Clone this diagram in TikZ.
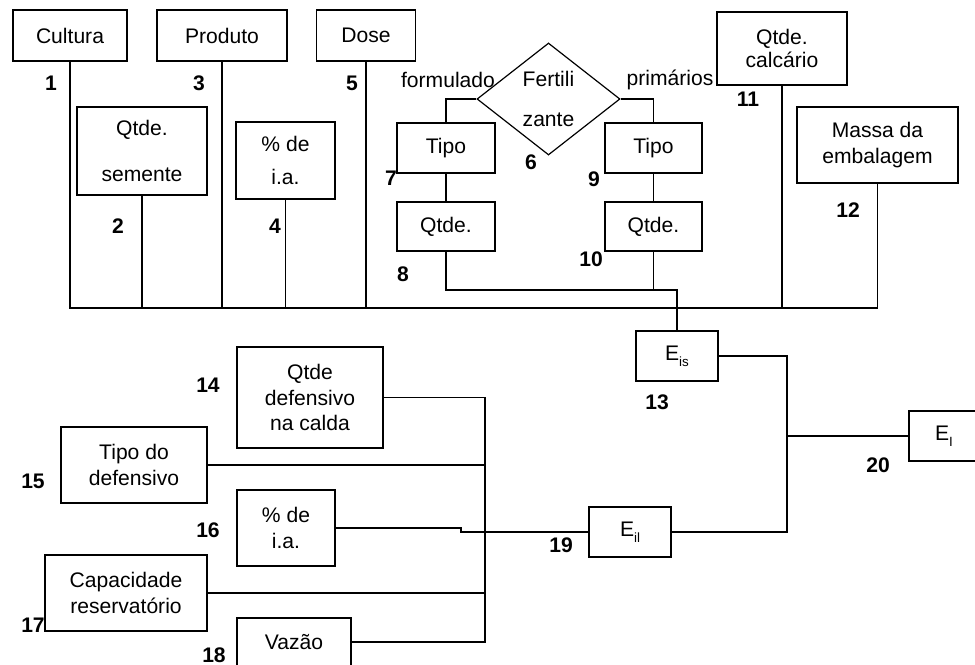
\documentclass[tikz,border=0pt]{standalone}
\usepackage{fontspec}
\setmainfont{Liberation Sans}
\usetikzlibrary{shapes.geometric}
\newlength\pxu
\setlength\pxu{0.025cm}
\newcommand\sub[1]{\raisebox{-4pt}{\fontsize{9.5}{9.5}\selectfont #1}}
\tikzset{
  every node/.style={font=\fontsize{15}{18}\selectfont},
  box/.style 2 args={draw, rectangle, inner sep=0pt, align=center,
    minimum width=#1\pxu, minimum height=#2\pxu},
  decision/.style={draw, diamond, aspect=1.3, inner sep=0pt, align=center,
    minimum width=143\pxu, minimum height=112\pxu},
  tag/.style={font=\fontsize{15}{18}\selectfont\bfseries, inner sep=0pt},
  link/.style={line width=0.85pt}
}

\begin{document}
\begin{tikzpicture}[x=0.025cm, y=-0.025cm, line width=0.85pt]
  \useasboundingbox (0,0) rectangle (975,665);
  \clip (0,0) rectangle (975,665);

  % insumos do solo / semente
  \node[box={114}{51}] (cult) at (70,35.5) {Cultura};
  \node[box={130}{51}] (prod) at (222,35.5) {Produto};
  \node[box={99}{51}] (dose) at (366,35.5) {Dose};
  \node[box={130}{88}] (sem) at (142,151) {Qtde.\\[15pt]semente};
  \node[box={99}{77}] (ia) at (285.5,160.5) {\% de\\[5.5pt]i.a.};
  \node[decision] (fert) at (548.5,99) {Fertili\\[11pt]zante};
  \node (formulado) at (448,80) {formulado};
  \node (primarios) at (670,80) {primários};
  \node[box={98}{50}] (tipoF) at (446,148) {Tipo};
  \node[box={98}{49}] (qtdF) at (446,226.5) {Qtde.};
  \node[box={97}{50}] (tipoP) at (653.5,148) {Tipo};
  \node[box={97}{49}] (qtdP) at (653.5,226.5) {Qtde.};
  \node[box={130}{73}] (calc) at (782,48.5) {Qtde.\\[-2pt]calcário};
  \node[box={161}{76}] (massa) at (877.5,145) {Massa da\\embalagem};

  % indices
  \node[box={82}{50}] (eis) at (677,356) {E\sub{is}};
  \node[box={82}{50}] (eil) at (630,532) {E\sub{il}};
  \node[box={70}{50}] (ei) at (944,436) {E\sub{I}};

  % defensivos
  \node[box={146}{101}] (qdef) at (310,397.5) {Qtde\\defensivo\\na calda};
  \node[box={146}{76}] (tdef) at (134,465) {Tipo do\\defensivo};
  \node[box={98}{76}] (iaDef) at (286,528) {\% de\\i.a.};
  \node[box={162}{76}] (cap) at (126,593) {Capacidade\\reservatório};
  \node[box={114}{48}] (vaz) at (294,642) {Vazão};

  % numeros
  \node[tag] (n1) at (51,83) {1};
  \node[tag] (n2) at (118,226) {2};
  \node[tag] (n3) at (199,83) {3};
  \node[tag] (n4) at (275,226) {4};
  \node[tag] (n5) at (352,83) {5};
  \node[tag] (n6) at (531,162) {6};
  \node[tag] (n7) at (391,178) {7};
  \node[tag] (n8) at (403,274) {8};
  \node[tag] (n9) at (594,179) {9};
  \node[tag] (n10) at (591,259) {10};
  \node[tag] (n11) at (748,99) {11};
  \node[tag] (n12) at (848,210) {12};
  \node[tag] (n13) at (657,402) {13};
  \node[tag] (n14) at (208,385) {14};
  \node[tag] (n15) at (33,481) {15};
  \node[tag] (n16) at (208,530) {16};
  \node[tag] (n17) at (33,625) {17};
  \node[tag] (n18) at (214,655) {18};
  \node[tag] (n19) at (561,545) {19};
  \node[tag] (n20) at (878,465) {20};

  % ligacoes
  \coordinate (bus) at (0,308);
  \coordinate (jn) at (677,290);
  \coordinate (jr) at (787,436);
  \coordinate (lb) at (485,0);
  \coordinate (st) at (461,0);
  \draw[link] (cult.south) |- (massa.south |- bus) -- (massa.south);
  \draw[link] (sem.south) -- (sem.south |- bus);
  \draw[link] (prod.south) -- (prod.south |- bus);
  \draw[link] (ia.south) -- (ia.south |- bus);
  \draw[link] (dose.south) -- (dose.south |- bus);
  \draw[link] (calc.south) -- (calc.south |- bus);
  \draw[link] (fert.west) -| (tipoF.north);
  \draw[link] (fert.east) -| (tipoP.north);
  \draw[link] (tipoF) -- (qtdF);
  \draw[link] (tipoP) -- (qtdP);
  \draw[link] (qtdF.south) |- (jn) -- (eis.north);
  \draw[link] (qtdP.south) -- (qtdP.south |- jn);
  \draw[link] (eis.east) -| (jr) |- (eil.east);
  \draw[link] (jr) -- (ei.west);
  \draw[link] (qdef.east) -| (vaz.east -| lb) -- (vaz.east);
  \draw[link] (tdef.east) -- (tdef.east -| lb);
  \draw[link] (cap.east) -- (cap.east -| lb);
  \draw[link] (iaDef.east) -| (st |- eil.west) -- (eil.west);
\end{tikzpicture}
\end{document}
